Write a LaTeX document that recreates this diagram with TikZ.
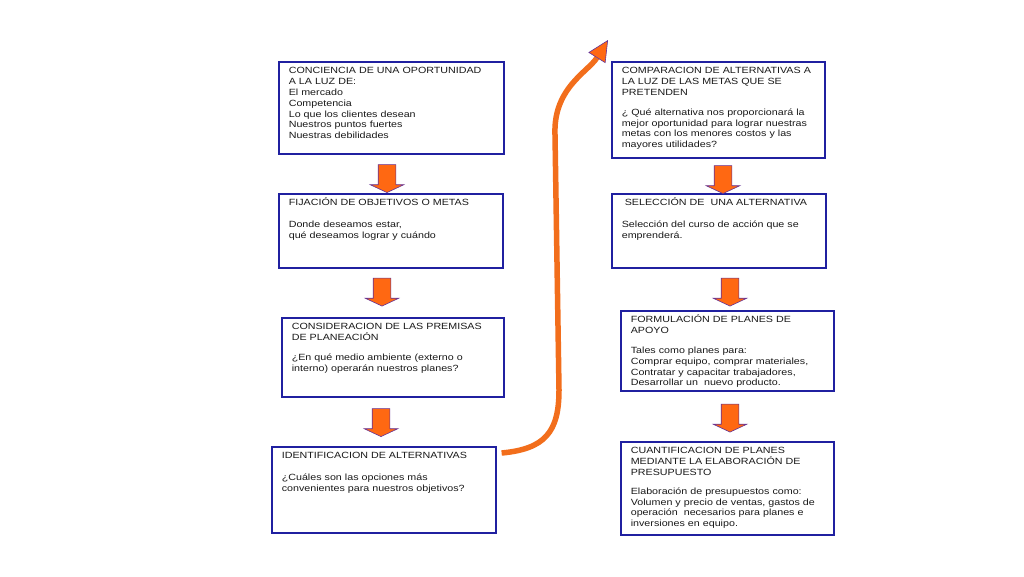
\documentclass[tikz,border=0pt]{standalone}
\usepackage{fontspec}
\setmainfont{Liberation Sans}[FakeStretch=1.19]
\usepackage{xcolor}
\usepackage{tikz}
\usetikzlibrary{shapes.arrows, arrows.meta, calc}

\definecolor{boxblue}{RGB}{32,32,160}
\definecolor{arroworange}{RGB}{255,104,18}
\definecolor{arrowedge}{RGB}{100,50,150}
\definecolor{curveorange}{RGB}{242,110,28}

\begin{document}
\begin{tikzpicture}[x=1pt, y=-1pt,
    box/.style={draw=boxblue, line width=1.6pt, anchor=north west,
      align=left, inner xsep=10pt, inner ysep=5pt, text height=7pt,
      font=\fontsize{9pt}{10.8pt}\selectfont, text=black!90},
    blockarrow/.style={single arrow, draw=arrowedge, fill=arroworange,
      line width=0.6pt, minimum height=28pt, inner sep=8.5pt,
      single arrow head extend=8pt, single arrow tip angle=130,
      shape border rotate=270},
    curvearrow/.style={draw=curveorange, line width=5.5pt,
      -{Triangle[length=21pt, width=20pt, fill=arroworange,
        color=arrowedge, line width=0.6pt]}}]
        \useasboundingbox (0, 0) rectangle (1024, 576);

        % conciencia
        \node [box, text width=205pt, text depth=75pt] (conciencia) at (278, 61)
          {CONCIENCIA DE UNA OPORTUNIDAD\\ A LA LUZ DE:\\ El mercado\\
           Competencia\\ Lo que los clientes desean\\ Nuestros puntos fuertes\\
           Nuestras debilidades};

        % fijacion
        \node [box, text width=204pt, text depth=57pt] (fijacion) at (278, 193)
          {FIJACIÓN DE OBJETIVOS O METAS\\[11pt]
           Donde deseamos estar,\\ qué deseamos lograr y cuándo};

        % premisas
        \node [box, text width=202pt, text depth=62pt] (premisas) at (281, 317)
          {CONSIDERACION DE LAS PREMISAS\\ DE PLANEACIÓN\\[9pt]
           ¿En qué medio ambiente (externo o\\ interno) operarán nuestros planes?};

        % identificacion
        \node [box, text width=204pt, text depth=69pt] (identificacion) at (271, 446)
          {IDENTIFICACION DE ALTERNATIVAS\\[11pt]
           ¿Cuáles son las opciones más\\ convenientes para nuestros objetivos?};

        % comparacion
        \node [box, text width=193pt, text depth=79pt] (comparacion) at (611, 61)
          {COMPARACION DE ALTERNATIVAS A\\ LA LUZ DE LAS METAS QUE SE\\ PRETENDEN\\[9pt]
           ¿ Qué alternativa nos proporcionará la\\ mejor oportunidad para lograr nuestras\\
           metas con los menores costos y las\\ mayores utilidades?};

        % seleccion
        \node [box, text width=194pt, text depth=57pt] (seleccion) at (611, 193)
          {\hspace*{3pt}SELECCIÓN DE \ UNA ALTERNATIVA\\[11pt]
           Selección del curso de acción que se\\ emprenderá.};

        % formulacion
        \node [box, text width=193pt, text depth=63pt] (formulacion) at (620, 310)
          {FORMULACIÓN DE PLANES DE\\ APOYO\\[9pt]
           Tales como planes para:\\ Comprar equipo, comprar materiales,\\
           Contratar y capacitar trabajadores,\\ Desarrollar un \ nuevo producto.};

        % cuantificacion
        \node [box, text width=193pt, text depth=76pt] (cuantificacion) at (620, 441)
          {CUANTIFICACION DE PLANES\\ MEDIANTE LA ELABORACIÓN DE\\ PRESUPUESTO\\[8pt]
           Elaboración de presupuestos como:\\ Volumen y precio de ventas, gastos de\\
           operación \ necesarios para planes e\\ inversiones en equipo.};

        % block arrows
        \node [blockarrow] (a1) at (387, 176.5) {};
        \node [blockarrow] (a2) at (382, 290) {};
        \node [blockarrow] (a3) at (381, 420.5) {};
        \node [blockarrow] (a4) at (723, 177.5) {};
        \node [blockarrow] (a5) at (730, 290) {};
        \node [blockarrow] (a6) at (730, 416) {};

        % the long curve
        \coordinate (tip) at (608, 40);
        \draw [curvearrow] ([xshift=5pt, yshift=-7pt]identificacion.north east)
          .. controls (545, 449) and (559, 432) .. (559, 390)
          -- (555, 135) .. controls (553, 88) and (588, 72) .. (tip);

      \end{tikzpicture}
\end{document}
